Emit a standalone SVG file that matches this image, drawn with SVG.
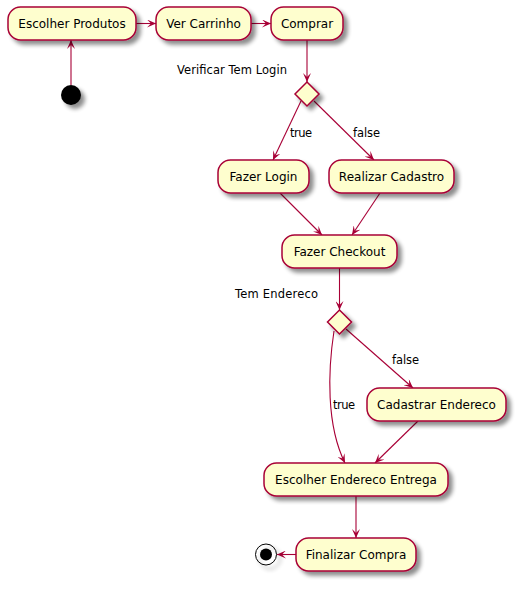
<svg xmlns="http://www.w3.org/2000/svg" width="524" height="589" viewBox="0 0 524 589">
<defs>
<filter id="sh" x="-20%" y="-20%" width="160%" height="170%">
<feGaussianBlur in="SourceAlpha" stdDeviation="2"/>
<feOffset dx="4" dy="4" result="b"/>
<feComponentTransfer><feFuncA type="linear" slope="0.45"/></feComponentTransfer>
<feMerge><feMergeNode/><feMergeNode in="SourceGraphic"/></feMerge>
</filter>
<marker id="ah" viewBox="0 0 9 8" refX="9" refY="4" markerWidth="9" markerHeight="8" markerUnits="userSpaceOnUse" orient="auto">
<path d="M0,0 L9,4 L0,8 L4,4 Z" fill="#A80036"/>
</marker>
</defs>
<style>
.n{fill:#FEFECE;stroke:#A80036;stroke-width:1.5;filter:url(#sh)}
.t{font-family:"DejaVu Sans",sans-serif;font-size:12px;fill:#000;text-anchor:middle}
.l{font-family:"DejaVu Sans",sans-serif;font-size:11.5px;fill:#000}
.c{fill:none;stroke:#A80036;stroke-width:1.1;marker-end:url(#ah)}
</style>
<g id="connectors">
<line class="c" x1="71" y1="85" x2="71" y2="40"/>
<line class="c" x1="136" y1="23.5" x2="156" y2="23.5"/>
<line class="c" x1="251" y1="23.5" x2="271" y2="23.5"/>
<line class="c" x1="307" y1="40" x2="307" y2="82"/>
<line class="c" x1="301" y1="101" x2="273" y2="160"/>
<line class="c" x1="314" y1="101" x2="374" y2="160"/>
<line class="c" x1="280" y1="193" x2="322" y2="235"/>
<line class="c" x1="380" y1="193" x2="352" y2="235"/>
<line class="c" x1="339.5" y1="268" x2="339.5" y2="310"/>
<line class="c" x1="346" y1="329" x2="413" y2="388"/>
<path class="c" d="M334,331 C328,370 326,425 345,463"/>
<line class="c" x1="418" y1="421" x2="375" y2="463"/>
<line class="c" x1="356" y1="496" x2="356" y2="538"/>
<line class="c" x1="296" y1="554.5" x2="277" y2="554.5"/>
<text class="l" x="177" y="74" textLength="110" lengthAdjust="spacing">Verificar Tem Login</text>
<text class="l" x="290" y="137" textLength="22" lengthAdjust="spacing">true</text>
<text class="l" x="353" y="137" textLength="27" lengthAdjust="spacing">false</text>
<text class="l" x="235" y="298" textLength="83" lengthAdjust="spacing">Tem Endereco</text>
<text class="l" x="392" y="364" textLength="27" lengthAdjust="spacing">false</text>
<text class="l" x="333" y="409" textLength="22" lengthAdjust="spacing">true</text>
</g>
<g id="start"><circle cx="71" cy="95" r="10" fill="#000" filter="url(#sh)"/></g>
<g id="escolherProdutos"><rect class="n" x="8" y="7" width="128" height="33" rx="12.5"/><text class="t" x="72" y="28">Escolher Produtos</text></g>
<g id="verCarrinho"><rect class="n" x="156" y="7" width="95" height="33" rx="12.5"/><text class="t" x="203.5" y="28">Ver Carrinho</text></g>
<g id="comprar"><rect class="n" x="271" y="7" width="72" height="33" rx="12.5"/><text class="t" x="307" y="28">Comprar</text></g>
<g id="decisao1"><polygon class="n" points="307,82 319,94 307,106 295,94"/></g>
<g id="fazerLogin"><rect class="n" x="218" y="160" width="91" height="33" rx="12.5"/><text class="t" x="263.5" y="181">Fazer Login</text></g>
<g id="realizarCadastro"><rect class="n" x="329" y="160" width="125" height="33" rx="12.5"/><text class="t" x="391.5" y="181">Realizar Cadastro</text></g>
<g id="fazerCheckout"><rect class="n" x="282" y="235" width="115" height="33" rx="12.5"/><text class="t" x="339.5" y="256">Fazer Checkout</text></g>
<g id="decisao2"><polygon class="n" points="339.5,310 351.5,322 339.5,334 327.5,322"/></g>
<g id="cadastrarEndereco"><rect class="n" x="367" y="388" width="139" height="33" rx="12.5"/><text class="t" x="436.5" y="409">Cadastrar Endereco</text></g>
<g id="escolherEnderecoEntrega"><rect class="n" x="264" y="463" width="184" height="33" rx="12.5"/><text class="t" x="356" y="484">Escolher Endereco Entrega</text></g>
<g id="finalizarCompra"><rect class="n" x="296" y="538" width="120" height="33" rx="12.5"/><text class="t" x="356" y="559">Finalizar Compra</text></g>
<g id="end"><circle cx="266" cy="554.5" r="10.5" fill="#fff" fill-opacity="0.01" stroke="#000" stroke-width="1" filter="url(#sh)"/><circle cx="266" cy="554.5" r="6" fill="#000"/></g>
</svg>
